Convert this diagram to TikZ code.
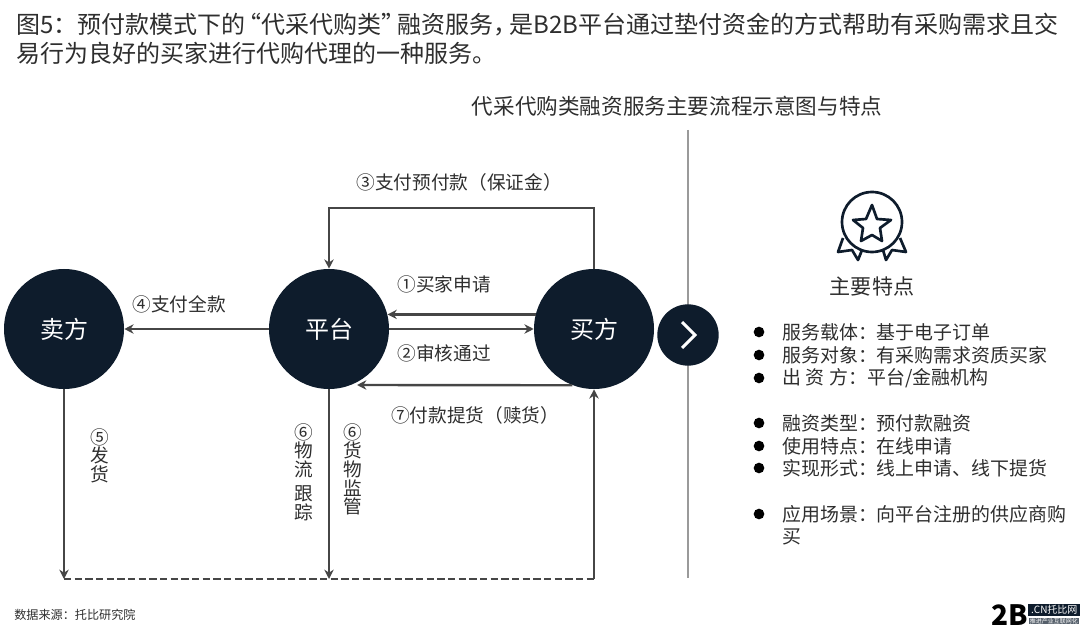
\documentclass[tikz,border=0pt]{standalone}
\usepackage{fontspec}
\setmainfont{Noto Sans CJK SC}
\usepackage{xcolor}
\definecolor{tbdark}{HTML}{0E1C2C}
\definecolor{tbline}{HTML}{464646}
\definecolor{tbtext}{HTML}{2E2E2E}
\definecolor{tbrule}{HTML}{9A9A9A}
\usetikzlibrary{arrows.meta,positioning,calc}
\tikzset{
  tbparty/.style={circle,fill=tbdark,text=white,minimum size=90pt,inner sep=0pt,font=\fontsize{18}{20}\selectfont},
  tbflow/.style={-{Stealth[length=7pt,width=7pt]},line width=1.8pt,draw=tbline},
  tbdash/.style={line width=1.8pt,draw=tbline,dash pattern=on 5.5pt off 2.5pt},
  tblabel/.style={font=\fontsize{14}{16}\selectfont,text=tbtext,inner sep=0pt},
  tbvert/.style={tblabel,align=center,anchor=north,font=\fontsize{14}{14}\selectfont},
  tbitem/.style={tblabel,anchor=west,font=\fontsize{14.2}{16}\selectfont},
  tbdot/.style={circle,fill=black,minimum size=8pt,inner sep=0pt},
  tbbadge/.style={tbdark,line width=2pt,line join=round},
}
\begin{document}
\begin{tikzpicture}[x=0.75pt,y=-0.75pt]
\useasboundingbox (0,0) rectangle (1080,630);
% heading
\node[anchor=west,inner sep=0pt,text=tbtext,font=\fontsize{18}{20}\selectfont] (headone) at (16,25) {图5：预付款模式下的\hspace{-6pt}“代采代购类”\hspace{-6pt}融资服务，\hspace{-6pt}是B2B平台通过垫付资金的方式帮助有采购需求且交};
\node[anchor=west,inner sep=0pt,text=tbtext,font=\fontsize{18}{20}\selectfont] (headtwo) at (16,53) {易行为良好的买家进行代购代理的一种服务。};
\node[inner sep=0pt,text=tbtext,font=\fontsize{16.2}{20}\selectfont] (charttitle) at (677,106) {代采代购类融资服务主要流程示意图与特点};
% parties
\node[tbparty] (seller) at (64,329) {卖方};
\node[tbparty] (platform) at (329,329) {平台};
\node[tbparty] (buyer) at (594,329) {买方};
% divider and chevron
\coordinate (ruletop) at (688,130);
\coordinate (rulebot) at (688,578);
\draw[tbrule,line width=1pt] (ruletop) -- (rulebot);
\node[circle,fill=tbdark,minimum size=46pt,inner sep=0pt] (next) at (688,335) {};
\draw[white,line width=2.2pt] ($(next)+(-6,-13)$) -- ($(next)+(7,0)$) -- ($(next)+(-6,13)$);
% flows
\coordinate (leftbot) at (64,579);
\coordinate (midbot) at (329,579);
\coordinate (rightbot) at (594,579);
\coordinate (payend) at (357,385);
\draw[tbflow] (buyer.north) -- ++(0,-61) -| (platform.north);
\draw[tbflow] (buyer.166) -- (platform.14);
\draw[tbflow] (platform) -- (buyer);
\draw[tbflow] (platform) -- (seller);
\draw[tbflow] (buyer.249) -- (payend);
\draw[tbflow] (seller) -- (leftbot);
\draw[tbflow] (platform) -- (midbot);
\draw[tbdash] (leftbot) -- (rightbot);
\draw[tbflow] (rightbot) -- (buyer);
\node[tblabel] (lblthree) at (459,182) {③支付预付款（保证金）};
\node[tblabel] (lblone) at (444,284) {①买家申请};
\node[tblabel] (lbltwo) at (444,353) {②审核通过};
\node[tblabel] (lblfour) at (179,304) {④支付全款};
\node[tblabel] (lblseven) at (475,415) {⑦付款提货（赎货）};
\node[tbvert] (lblfive) at (100,428) {⑤\\发\\货};
\node[tbvert] (lblsixa) at (304,423) {⑥\\物\\流\\[4pt]跟\\踪};
\node[tbvert] (lblsixb) at (353,423) {⑥\\货\\物\\监\\管};
% badge
\draw[tbbadge] (872,222) circle (30);
\draw[tbbadge] (872,205) -- (877,219) -- (891,220) -- (880,228) -- (882,241) -- (872,235) -- (861,241) -- (863,228) -- (853,220) -- (866,219) -- cycle;
\draw[tbbadge] (843,238) -- (838,252) -- (852,250) -- (858,260) -- (862,250);
\draw[tbbadge] (900,238) -- (906,252) -- (892,250) -- (886,260) -- (883,250);
\node[inner sep=0pt,text=tbtext,font=\fontsize{15.8}{18}\selectfont] (feature) at (872,286) {主要特点};
% list
\foreach \y/\t in {332/服务载体：基于电子订单,355/服务对象：有采购需求资质买家,378/{出\hspace{3.5pt}资\hspace{3.5pt}方：平台/金融机构},423/融资类型：预付款融资,446/使用特点：在线申请,468/实现形式：线上申请、线下提货,514/应用场景：向平台注册的供应商购} {
  \node[tbdot] (dot\y) at (759,\y) {};
  \node[tbitem] (item\y) at (782,\y) {\t};
}
\node[tbitem] (itemlast) at (782,537) {买};
% footer
\node[anchor=west,inner sep=0pt,text=tbtext,font=\fontsize{9.1}{10}\selectfont] (source) at (14,615) {数据来源：托比研究院};
% logo
\node[anchor=west,inner sep=0pt,text=black,font=\fontsize{21}{22}\selectfont\bfseries] (logotwo) at (991,615) {2B};
\node[anchor=west,fill=tbdark,text=white,inner sep=1pt,minimum width=39pt,minimum height=8pt,font=\fontsize{7.5}{8}\selectfont] (logocn) at (1028,610) {.CN托比网};
\node[anchor=west,fill=tbdark!70,text=white,inner sep=0.5pt,minimum width=36pt,font=\fontsize{4.5}{5}\selectfont] (logosub) at (1029,621) {推进产业互联网化};
\end{tikzpicture}
\end{document}
